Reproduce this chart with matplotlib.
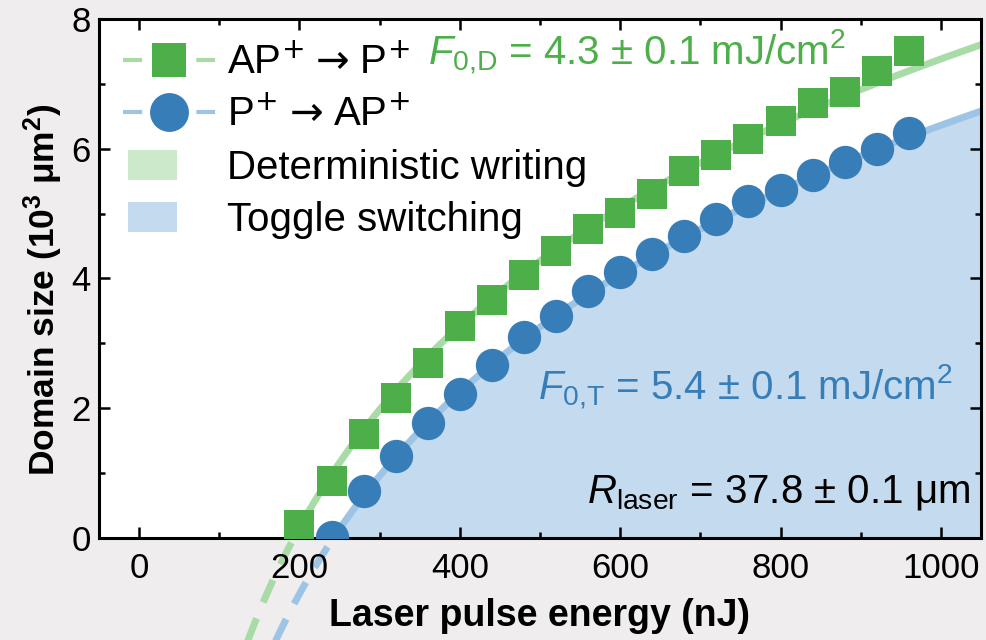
import numpy as np
import matplotlib.pyplot as plt
from matplotlib.lines import Line2D
from matplotlib.patches import Patch, Rectangle
from matplotlib.legend_handler import HandlerPatch
from matplotlib.ticker import MultipleLocator

plt.rcParams['font.family'] = ['Liberation Sans', 'DejaVu Sans']
plt.rcParams['mathtext.fontset'] = 'custom'
plt.rcParams['mathtext.rm'] = 'Liberation Sans'
plt.rcParams['mathtext.it'] = 'Liberation Sans:italic'
plt.rcParams['mathtext.bf'] = 'Liberation Sans:bold'

# measured domain sizes (10^3 um^2) vs pulse energy (nJ)
energy_ap_p = [200, 240, 280, 320, 360, 400, 440, 480, 520, 560,
               600, 640, 680, 720, 760, 800, 840, 880, 920, 960]
size_ap_p = [0.20, 0.88, 1.61, 2.16, 2.69, 3.27, 3.67, 4.05, 4.42, 4.76,
             5.01, 5.31, 5.66, 5.90, 6.15, 6.43, 6.70, 6.88, 7.20, 7.51]

energy_p_ap = [240, 280, 320, 360, 400, 440, 480, 520, 560, 600,
               640, 680, 720, 760, 800, 840, 880, 920, 960]
size_p_ap = [0.02, 0.73, 1.27, 1.77, 2.22, 2.67, 3.10, 3.42, 3.81, 4.10,
             4.38, 4.66, 4.92, 5.19, 5.37, 5.59, 5.79, 5.99, 6.24]

# fit parameters
R_LASER = 37.8   # um
F0_D = 4.3       # mJ/cm^2
F0_T = 5.4       # mJ/cm^2

GREEN = '#4daf4a'
GREEN_LIGHT = '#a8dba5'
GREEN_FILL = '#cce9cb'
BLUE = '#377eb8'
BLUE_LIGHT = '#9dc4e4'
BLUE_FILL = '#c4daee'
BG = '#efedee'

XMAX = 1050


def fit_curve(f0):
    # A = pi R^2 ln(E / E_th), E_th = F0 * pi R^2
    spot = np.pi * R_LASER ** 2
    e_th = f0 * spot * 1e-2  # nJ
    e_solid = np.linspace(e_th, XMAX, 300)
    e_dash = np.linspace(0.5 * e_th, e_th, 60)
    return (e_solid, spot * 1e-3 * np.log(e_solid / e_th),
            e_dash, spot * 1e-3 * np.log(e_dash / e_th))


fig = plt.figure(figsize=(9.86, 6.4), dpi=100, facecolor=BG)
ax = fig.add_axes([0.1004, 0.1594, 0.8945, 0.8109])

gx, gy, gxd, gyd = fit_curve(F0_D)
bx, by, bxd, byd = fit_curve(F0_T)

ax.fill_between(bx, 0, by, color=BLUE_FILL, lw=0, zorder=0.8)

for xs, ys, xd, yd, c in [(gx, gy, gxd, gyd, GREEN_LIGHT), (bx, by, bxd, byd, BLUE_LIGHT)]:
    ax.plot(xs, ys, color=c, lw=5, solid_capstyle='butt', zorder=2)
    ax.plot(xd, yd, color=c, lw=5, ls=(0, (3.5, 2.5)), clip_on=False, zorder=1)

ax.plot(energy_ap_p, size_ap_p, 's', ms=21, color=GREEN, mew=0, zorder=3)
ax.plot(energy_p_ap, size_p_ap, 'o', ms=24, color=BLUE, mew=0, zorder=3)

ax.set_xlim(-50, XMAX)
ax.set_ylim(0, 8)
ax.xaxis.set_major_locator(MultipleLocator(200))
ax.xaxis.set_minor_locator(MultipleLocator(100))
ax.yaxis.set_major_locator(MultipleLocator(2))
ax.yaxis.set_minor_locator(MultipleLocator(1))
ax.tick_params(which='both', direction='in', top=True, right=True, width=1.8,
               labelsize=25)
ax.tick_params(which='major', length=8)
ax.tick_params(which='minor', length=4.5)
ax.tick_params(axis='x', pad=10)
ax.tick_params(axis='y', pad=6)
for sp in ax.spines.values():
    sp.set_linewidth(2.2)

ax.set_xlabel('Laser pulse energy (nJ)', fontsize=27, fontweight='bold')
ax.set_ylabel(r'Domain size (10$^\mathbf{3}$ μm$^\mathbf{2}$)', fontsize=25.5,
              fontweight='bold')
ax.xaxis.set_label_coords(0.5, -0.115)
ax.yaxis.set_label_coords(-0.039, 0.478)

ax.text(360, 7.29, r'$F_{0{,}\mathrm{D}}$ = 4.3 ± 0.1 mJ/cm$^2$', color=GREEN,
        fontsize=29, va='baseline')
ax.text(497, 2.13, r'$F_{0{,}\mathrm{T}}$ = 5.4 ± 0.1 mJ/cm$^2$', color=BLUE,
        fontsize=29, va='baseline')
ax.text(1036, 0.54, r'$R_\mathrm{laser}$ = 37.8 ± 0.1 μm', color='black',
        fontsize=29, va='baseline', ha='right')


def rect_patch(legend, orig_handle, xdescent, ydescent, width, height, fontsize):
    h = 0.74 * fontsize
    return Rectangle((-xdescent + 0.055 * width, -ydescent + height / 2 - h / 2),
                     0.53 * width, h)


handles = [
    Line2D([], [], color=GREEN_LIGHT, lw=3, ls=(0, (4.6, 13.0)), marker='s',
           ms=25, mfc=GREEN, mec=GREEN, mew=0),
    Line2D([], [], color=BLUE_LIGHT, lw=3, ls=(0, (4.6, 13.0)), marker='o',
           ms=28, mfc=BLUE, mec=BLUE, mew=0),
    Patch(facecolor=GREEN_FILL, lw=0),
    Patch(facecolor=BLUE_FILL, lw=0),
]
labels = [r'AP$^{+}\hspace{0.06}\rightarrow\hspace{0.06}$P$^{+}$',
          r'P$^{+}\hspace{0.06}\rightarrow\hspace{0.06}$AP$^{+}$',
          'Deterministic writing', 'Toggle switching']
leg = ax.legend(handles, labels, loc='upper left', bbox_to_anchor=(0.027, 0.952),
                frameon=False, fontsize=29, handlelength=2.28, handletextpad=0.3,
                labelspacing=0.36, borderpad=0, borderaxespad=0,
                handler_map={Patch: HandlerPatch(patch_func=rect_patch)})
for t in leg.get_texts()[:2]:
    t.set_math_fontfamily('dejavusans')

fig.savefig('out.png', dpi=100, facecolor=BG)
